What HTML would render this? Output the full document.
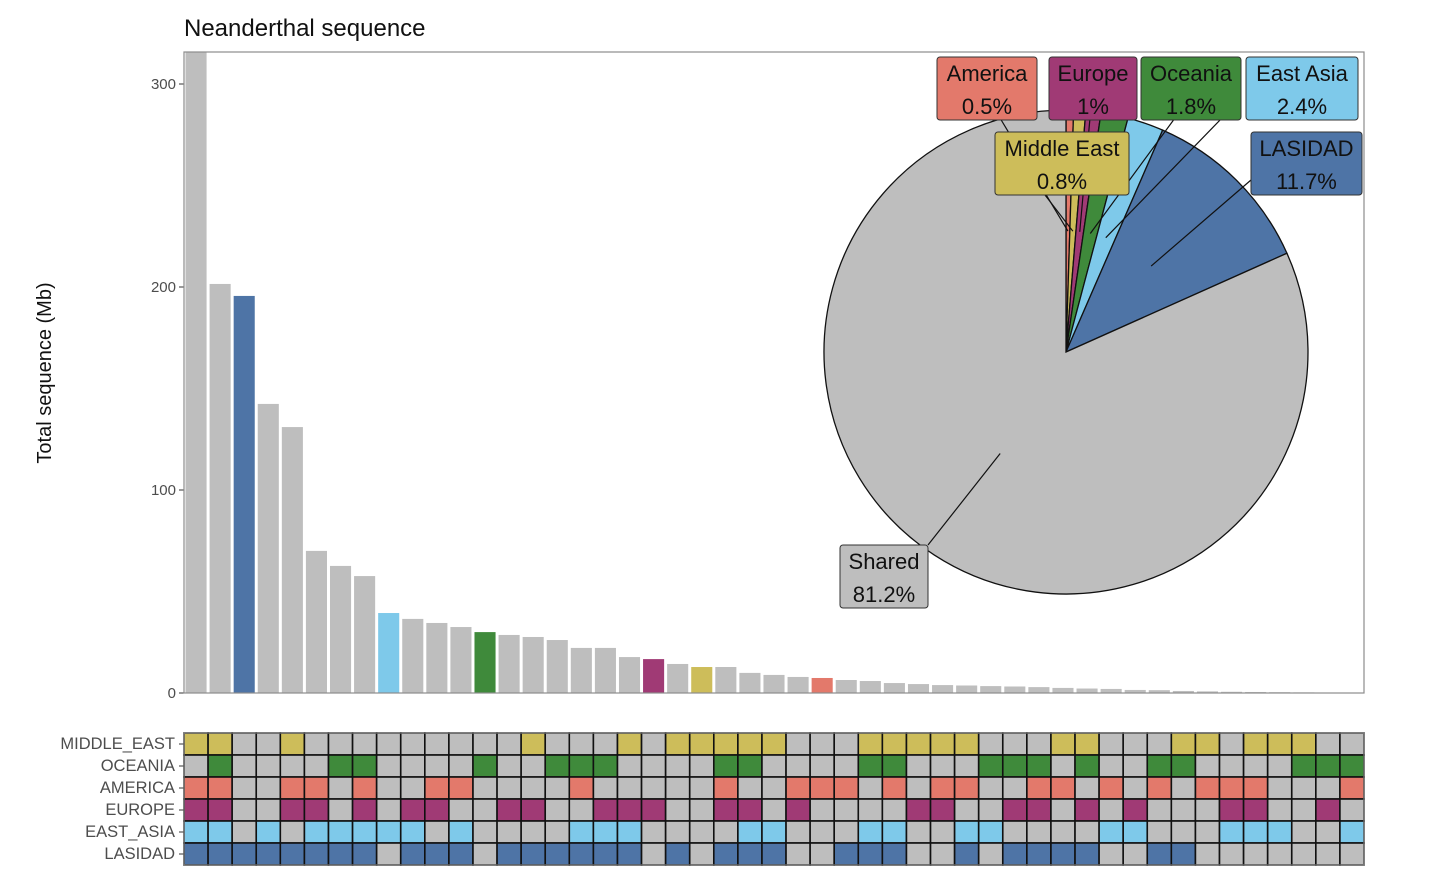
<!DOCTYPE html>
<html><head><meta charset="utf-8"><style>
html,body{margin:0;padding:0;background:#fff;}
svg text{font-family:"Liberation Sans",Arial,sans-serif;}
</style></head><body>
<svg id="chart" width="1456" height="883" viewBox="0 0 1456 883" xmlns="http://www.w3.org/2000/svg">
<text x="184" y="36" font-size="24" fill="#111">Neanderthal sequence</text>
<text transform="translate(51,373) rotate(-90)" text-anchor="middle" font-size="20" fill="#111">Total sequence (Mb)</text>
<g id="bars"></g>
<g id="yaxis"></g>
<rect x="184" y="52" width="1180" height="641" fill="none" stroke="#8c8c8c" stroke-width="1.2"/>
<g id="pie"></g>
<g id="grid"></g>
</svg>
<script>
const NS="http://www.w3.org/2000/svg";
// ---- data ----
const barValues=[340,201.5,195.6,142.4,131,70,62.6,57.6,39.4,36.5,34.5,32.5,30,28.6,27.6,26.1,22.2,22.2,17.7,16.7,14.3,12.8,12.8,9.9,8.9,7.9,7.4,6.4,5.9,4.9,4.4,3.9,3.7,3.4,3.2,2.9,2.5,2.2,2,1.5,1.4,1,0.8,0.6,0.5,0.4,0.3,0.2,0.1];
const yTicks=[0,100,200,300];
const popNames=["MIDDLE_EAST","OCEANIA","AMERICA","EUROPE","EAST_ASIA","LASIDAD"];
const popColors=["#CDBD5A","#3F8A3B","#E3796B","#A03A75","#7EC9EA","#4E74A6"];
const memME=[1,1,0,0,1,0,0,0,0,0,0,0,0,0,1,0,0,0,1,0,1,1,1,1,1,0,0,0,1,1,1,1,1,0,0,0,1,1,0,0,0,1,1,0,1,1,1,0,0];
const memOC=[0,1,0,0,0,0,1,1,0,0,0,0,1,0,0,1,1,1,0,0,0,0,1,1,0,0,0,0,1,1,0,0,0,1,1,1,0,1,0,0,1,1,0,0,0,0,1,1,1];
const memAM=[1,1,0,0,1,1,0,1,0,0,1,1,0,0,0,0,1,0,0,0,0,0,1,0,0,1,1,1,0,1,0,1,1,0,0,1,1,0,1,0,1,0,1,1,1,0,0,0,1];
const memEU=[1,1,0,0,1,1,0,1,0,1,1,0,0,1,1,0,0,1,1,1,0,0,1,1,0,1,0,0,0,0,1,1,0,0,1,1,0,1,0,1,0,0,0,1,1,0,0,1,0];
const memEA=[1,1,0,1,0,1,1,1,1,1,0,1,0,0,0,0,1,1,1,0,0,0,0,1,1,0,0,0,1,1,0,0,1,1,0,0,0,0,1,1,0,0,0,1,1,1,0,0,1];
const memLA=[1,1,1,1,1,1,1,1,0,1,1,1,0,1,1,1,1,1,1,0,1,0,1,1,1,0,0,1,1,1,0,0,1,0,1,1,1,1,0,0,1,1,0,0,0,0,0,0,0];
const pieLabels=["America","Middle East","Europe","Oceania","East Asia","LASIDAD","Shared"];
const pieValues=[0.5,0.8,1,1.8,2.4,11.7,81.2];
const pieColors=["#E3796B","#CDBD5A","#A03A75","#3F8A3B","#7EC9EA","#4E74A6","#BEBEBE"];
const memberships=[memME,memOC,memAM,memEU,memEA,memLA];
// ---- scales ----
const X0=184,X1=1364,Y0=693,Y1=52,N=barValues.length,cw=(X1-X0)/N;
const ys=v=>Y0-v*2.03;
const xs=i=>X0+i*cw;
function el(tag,attrs,parent){const e=document.createElementNS(NS,tag);for(const k in attrs)e.setAttribute(k,attrs[k]);parent.appendChild(e);return e;}
const bars=document.getElementById('bars');
barValues.forEach((v,i)=>{
  const mem=memberships.map(m=>m[i]);const cnt=mem.reduce((a,b)=>a+b,0);
  const col=cnt===1?popColors[mem.indexOf(1)]:"#BEBEBE";
  const top=Math.max(ys(v),Y1);
  const r=el('rect',{x:xs(i)+1.5,y:top,width:cw-3,height:Y0-top,fill:col},bars);
  
  
});
const ya=document.getElementById('yaxis');
yTicks.forEach(t=>{
  el('line',{x1:X0-5,x2:X0,y1:ys(t),y2:ys(t),stroke:"#333"},ya);
  const tx=el('text',{x:X0-8,y:ys(t)+5,'text-anchor':'end','font-size':15,fill:'#4d4d4d'},ya);
  tx.textContent=t;
  
  
});
// grid
const grid=document.getElementById('grid');
const GY=733,RH=22;
popNames.forEach((p,r)=>{
  const y=GY+r*RH;
  const lt=el('text',{x:X0-9,y:y+16,'text-anchor':'end','font-size':16.5,fill:'#4d4d4d'},grid);
  lt.textContent=p;
  
  
  el('line',{x1:X0-5,x2:X0,y1:y+11,y2:y+11,stroke:'#333'},grid);
  memberships[r].forEach((m,i)=>{
    const c=el('rect',{x:xs(i),y:y,width:cw,height:RH,fill:m?popColors[r]:'#BEBEBE',stroke:'#111','stroke-width':1.6},grid);
    
    
  });
});
el('rect',{x:X0,y:GY,width:X1-X0,height:RH*6,fill:'none',stroke:'#8c8c8c','stroke-width':1},grid);
// pie
const pie=document.getElementById('pie');
const cx=1066,cy=352,R=242;
const tot=pieValues.reduce((a,b)=>a+b,0);
let acc=0;
const pt=(a,r)=>[cx+r*Math.sin(a),cy-r*Math.cos(a)];
pieValues.forEach((v,i)=>{
  const a0=acc/tot*2*Math.PI;acc+=v;const a1=acc/tot*2*Math.PI;
  const p0=pt(a0,R),p1=pt(a1,R);
  const large=(a1-a0)>Math.PI?1:0;
  const s=el('path',{d:`M${cx},${cy}L${p0[0]},${p0[1]}A${R},${R} 0 ${large} 1 ${p1[0]},${p1[1]}Z`,fill:pieColors[i],stroke:'#111','stroke-width':1.3},pie);
  
  
});
const boxes=[[937,57,100,63,1000,118],[995,132,134,63,1045,195],[1049,57,88,63,1090,118],[1141,57,100,63,1175,118],[1246,57,112,63,1222,118],[1251,132,111,63,1251,180],[840,545,88,63,928,545]];
acc=0;
pieValues.forEach((v,i)=>{
  const mid=(acc+v/2)/tot*2*Math.PI;acc+=v;
  const tp=pt(mid,R/2);
  const b=boxes[i];
  el('line',{x1:b[4],y1:b[5],x2:tp[0],y2:tp[1],stroke:'#111','stroke-width':1.2},pie);
});
pieValues.forEach((v,i)=>{
  const b=boxes[i];
  const g=el('g',{},pie);
  
  
  el('rect',{x:b[0],y:b[1],width:b[2],height:b[3],rx:3,fill:pieColors[i],stroke:'#333','stroke-width':1},g);
  const t1=el('text',{x:b[0]+b[2]/2,y:b[1]+24,'text-anchor':'middle','font-size':22,fill:'#111'},g);
  t1.textContent=pieLabels[i];
  const t2=el('text',{x:b[0]+b[2]/2,y:b[1]+57,'text-anchor':'middle','font-size':22,fill:'#111'},g);
  t2.textContent=v+'%';
});
</script>
</body></html>
